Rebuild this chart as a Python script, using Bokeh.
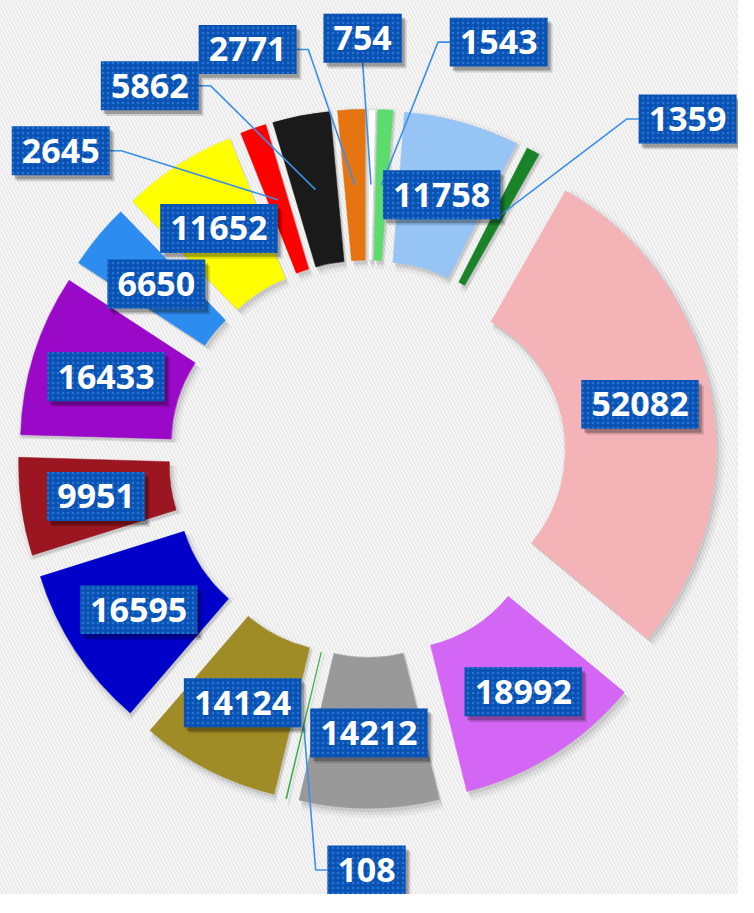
import numpy as np
from bokeh.plotting import figure
from bokeh.models import Range1d, ColumnDataSource, BoxAnnotation
from bokeh.embed import file_html
from bokeh.resources import INLINE
from bokeh.core.properties import value

# ---- data (clockwise from 12 o'clock) ----
values = [754, 1543, 11758, 1359, 52082, 18992, 14212, 108, 14124,
          16595, 9951, 16433, 6650, 11652, 2645, 5862, 2771]
colors = ["#ffffff", "#5ddc6e", "#96c5f5", "#1a8228", "#f4b3b7", "#d466f5",
          "#999999", "#2aa83a", "#a08c26", "#0000c8", "#9b1620", "#9a08c8",
          "#2d8cf0", "#ffff00", "#ff0000", "#1a1a1a", "#e57510"]
labels = [str(v) for v in values]

# ---- layout (reference pixel space 754 x 913, scaled to fit window) ----
RW, RH = 754, 913
W = 738
S = W / RW
H = int(round(RH * S))
CX, CY = 375, 468
R_IN, R_OUT, PULL = 150, 304, 53
R_LAB = (R_IN + R_OUT) / 2
# boxes placed outside the ring for small slices: index -> (x, y, side of leader)
outside = {0: (370, 38.5, "bottom"), 1: (509, 42.5, "left"), 3: (702, 121, "left"),
           7: (374, 888, "left"), 14: (61.5, 153.5, "right"),
           15: (152.5, 87, "right"), 16: (252.5, 50, "right")}
nudge = {4: (3, -5), 5: (10, 1)}

vals = np.array(values, dtype=float)
ang = vals / vals.sum() * 360.0
a1 = np.cumsum(ang)
a0 = a1 - ang
mid = np.radians((a0 + a1) / 2)

sx = CX + PULL * np.sin(mid)          # slice centre, screen coords
sy = CY - PULL * np.cos(mid)

p = figure(width=W, height=H, x_range=Range1d(0, RW), y_range=Range1d(-RH, 0),
           output_backend="svg", toolbar_location=None, min_border=0,
           background_fill_color="#e6e6e6", border_fill_color="#e6e6e6")
p.axis.visible = False
p.grid.visible = False
p.outline_line_color = None

p.add_layout(BoxAnnotation(fill_color="#e6e6e6", fill_alpha=1, line_color=None,
                           hatch_pattern="left_diagonal_line", hatch_color="#f7f7f7",
                           hatch_alpha=1.0, hatch_scale=7, hatch_weight=1.8,
                           level="underlay"))

wsrc = ColumnDataSource(dict(
    x=sx, y=-sy, start=np.radians(90 - a1), end=np.radians(90 - a0), color=colors,
    xs1=sx + 2, ys1=-sy - 3, xs2=sx + 3, ys2=-sy - 4))

# soft shadows
p.annular_wedge(x="xs2", y="ys2", inner_radius=R_IN - 5, outer_radius=R_OUT + 6,
                start_angle="start", end_angle="end", source=wsrc,
                fill_color="black", fill_alpha=0.035, line_color=None)
p.annular_wedge(x="xs2", y="ys2", inner_radius=R_IN - 2, outer_radius=R_OUT + 3,
                start_angle="start", end_angle="end", source=wsrc,
                fill_color="black", fill_alpha=0.05, line_color=None)
p.annular_wedge(x="xs1", y="ys1", inner_radius=R_IN - 1, outer_radius=R_OUT + 1,
                start_angle="start", end_angle="end", source=wsrc,
                fill_color="black", fill_alpha=0.08, line_color=None)
p.annular_wedge(x="x", y="y", inner_radius=R_IN, outer_radius=R_OUT,
                start_angle="start", end_angle="end", source=wsrc,
                fill_color="color", line_color="color", line_width=0.5)
# thin outline for the white slice
p.annular_wedge(x=[sx[0]], y=[-sy[0]], inner_radius=R_IN, outer_radius=R_OUT,
                start_angle=[np.radians(90 - a1[0])], end_angle=[np.radians(90 - a0[0])],
                fill_color="#ffffff", line_color="#d8d8d8", line_width=1)

# ---- labels ----
bx, by, bw, lxs, lys = [], [], [], [], []
for i, lab in enumerate(labels):
    w = 20 * len(lab) + 20
    if i in outside:
        x, y, side = outside[i]
        axp = sx[i] + R_LAB * np.sin(mid[i])
        ayp = sy[i] - R_LAB * np.cos(mid[i])
        if side == "bottom":
            px, py = [x, axp], [y + 25, ayp]
        elif side == "left":
            px, py = [x - w / 2, x - w / 2 - 12, axp], [y, y, ayp]
        else:
            px, py = [x + w / 2, x + w / 2 + 12, axp], [y, y, ayp]
        lxs.append(px)
        lys.append([-v for v in py])
    else:
        dx, dy = nudge.get(i, (0, 0))
        x = sx[i] + R_LAB * np.sin(mid[i]) + dx
        y = sy[i] - R_LAB * np.cos(mid[i]) + dy
    bx.append(x)
    by.append(y)
    bw.append(w)

p.multi_line(xs=lxs, ys=lys, line_color="#3d8fe6", line_width=1.6)

bx = np.array(bx)
by = np.array(by)
lsrc = ColumnDataSource(dict(x=bx, y=-by, w=bw, t=labels,
                             x1=bx + 3, y1=-by - 4, x2=bx + 5, y2=-by - 6))
p.rect(x="x2", y="y2", width="w", height=50, source=lsrc,
       fill_color="black", fill_alpha=0.14, line_color=None)
p.rect(x="x1", y="y1", width="w", height=50, source=lsrc,
       fill_color="black", fill_alpha=0.25, line_color=None)
p.rect(x="x", y="y", width="w", height=50, source=lsrc,
       fill_color="#0a52b2", line_color=None,
       hatch_pattern="dot", hatch_color="#2a78dc", hatch_scale=5, hatch_weight=1.5,
       hatch_alpha=0.9)
p.text(x="x", y="y", text="t", source=lsrc, text_font=value("Open Sans"),
       text_font_style="bold", text_font_size="34px", text_color="white",
       text_align="center", text_baseline="middle")

open("out.html", "w").write(file_html(p, INLINE))
